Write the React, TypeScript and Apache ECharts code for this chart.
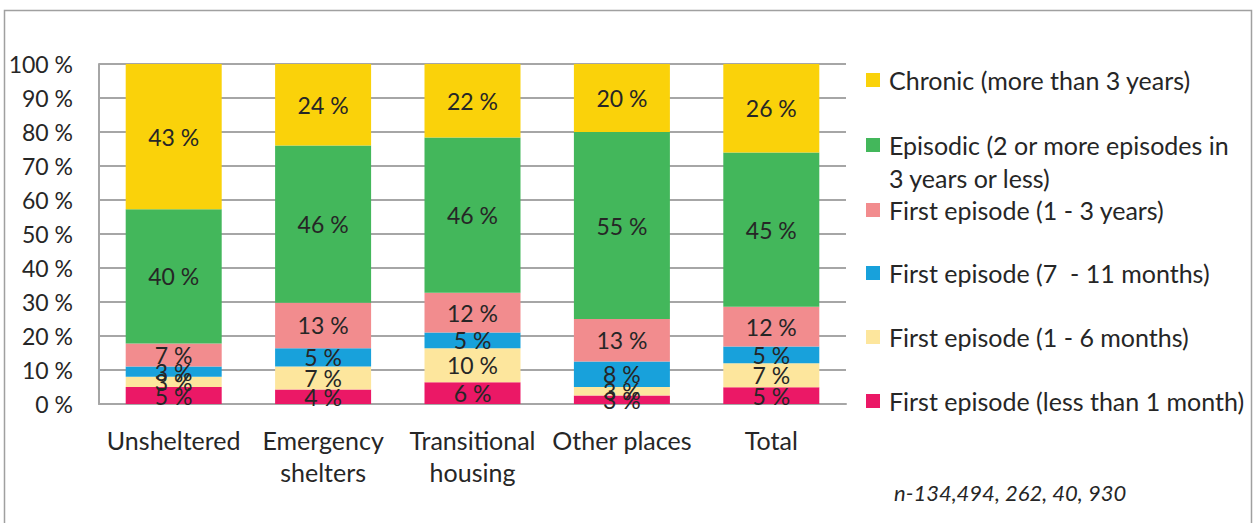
import React, { useEffect, useRef } from "react";
import * as echarts from "echarts";

const categories = ["Unsheltered", "Emergency\nshelters", "Transitional\nhousing", "Other places", "Total"];
const seriesNames = [
  "First episode (less than 1 month)",
  "First episode (1 - 6 months)",
  "First episode (7  - 11 months)",
  "First episode (1 - 3 years)",
  "Episodic (2 or more episodes in 3 years or less)",
  "Chronic (more than 3 years)",
];
const lessThan1Month = [5.0, 4.3, 6.4, 2.5, 4.9];
const oneTo6Months = [3.0, 6.7, 10.0, 2.5, 7.1];
const sevenTo11Months = [3.0, 5.4, 4.6, 7.5, 4.9];
const oneTo3Years = [6.8, 13.4, 11.7, 12.5, 11.7];
const episodic = [39.5, 46.2, 45.7, 55.0, 45.4];
const chronic = [42.7, 24.0, 21.6, 20.0, 26.0];
const seriesValues = [lessThan1Month, oneTo6Months, sevenTo11Months, oneTo3Years, episodic, chronic];
const colors = ["#EB1866", "#FDE69D", "#18A1DB", "#F28C8E", "#43B75B", "#FAD20A"];
const yTicks = [0, 10, 20, 30, 40, 50, 60, 70, 80, 90, 100];
const note = "n-134,494, 262, 40, 930";

const FONT = "Lato, 'Noto Sans', sans-serif";
const TXT = "#262626";
const GRID = "#A6A6A6";

export default function App() {
  const ref = useRef<HTMLDivElement>(null);
  useEffect(() => {
    if (!ref.current) return;
    document.body.style.margin = "0";
    const chart = echarts.init(ref.current, null, { renderer: "svg" });
    const legendTops = [387, 323, 259, 196, 131, 66];
    chart.setOption({
      animation: false,
      textStyle: { fontFamily: FONT },
      grid: { left: 99, right: 409, top: 64, bottom: 119, containLabel: false },
      xAxis: {
        type: "category",
        data: categories,
        axisLine: { show: true, lineStyle: { color: GRID, width: 2 } },
        axisTick: { show: false },
        axisLabel: { color: TXT, fontSize: 25, fontFamily: FONT, margin: 20, lineHeight: 32, interval: 0 },
      },
      yAxis: {
        type: "value",
        min: yTicks[0],
        max: yTicks[yTicks.length - 1],
        interval: 10,
        axisLine: { show: true, lineStyle: { color: GRID, width: 2 } },
        axisTick: { show: false },
        splitLine: { show: true, lineStyle: { color: GRID, width: 2 } },
        axisLabel: { color: TXT, fontSize: 23, fontFamily: FONT, margin: 26, formatter: "{value} %" },
      },
      legend: seriesNames.map((name, i) => ({
        data: [name],
        left: 866,
        top: legendTops[i],
        orient: "vertical",
        padding: 0,
        itemWidth: 14,
        itemHeight: 14,
        itemGap: 0,
        icon: "rect",
        selectedMode: false,
        formatter: (n: string) => (n.startsWith("Episodic") ? "Episodic (2 or more episodes in" : n),
        textStyle: { color: TXT, fontSize: 25, lineHeight: 28, fontFamily: FONT, padding: [0, 0, 0, 4] },
      })),
      graphic: [
        {
          type: "text",
          x: 889,
          y: 178,
          style: { text: "3 years or less)", fill: TXT, font: `25px ${FONT}`, verticalAlign: "middle" },
        },
        {
          type: "text",
          x: 894,
          y: 492,
          style: { text: note, fill: TXT, font: `italic 22px ${FONT}`, verticalAlign: "middle" },
        },
        {
          type: "rect",
          shape: { x: 4.5, y: 10.5, width: 1247, height: 530 },
          style: { fill: "none", stroke: "#A0A0A0", lineWidth: 1.5 },
          silent: true,
        },
      ],
      series: seriesNames.map((name, i) => ({
        name,
        type: "bar",
        stack: "all",
        barWidth: 96,
        data: seriesValues[i],
        itemStyle: { color: colors[i] },
        label: {
          show: true,
          position: "inside",
          color: TXT,
          fontSize: 23,
          fontFamily: FONT,
          formatter: (p: any) => `${Math.round(p.value)} %`,
        },
      })),
    });
    return () => chart.dispose();
  }, []);
  return <div ref={ref} style={{ width: 1255, height: 523 }} />;
}
